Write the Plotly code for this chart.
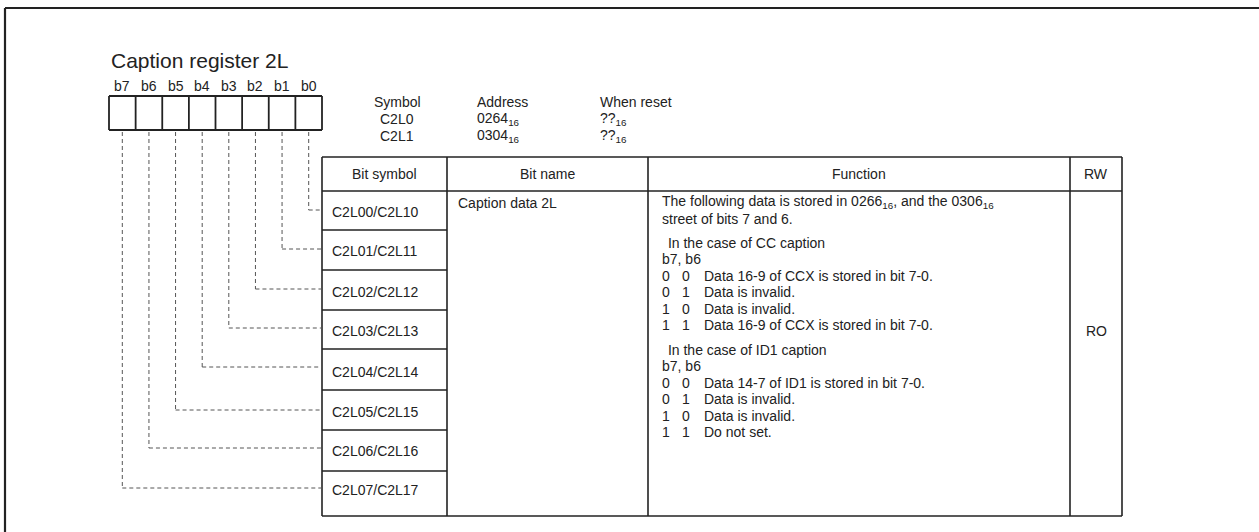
import plotly.graph_objects as go

# ---------------- data ----------------
title_text = "Caption register 2L"
bit_labels = ["b7", "b6", "b5", "b4", "b3", "b2", "b1", "b0"]
reg_header = ["Symbol", "Address", "When reset"]
reg_symbols = ["C2L0", "C2L1"]
reg_addresses = ["0264<sub>16</sub>", "0304<sub>16</sub>"]
reg_reset = ["??<sub>16</sub>", "??<sub>16</sub>"]
table_header = ["Bit symbol", "Bit name", "Function", "RW"]
bit_symbols = ["C2L00/C2L10", "C2L01/C2L11", "C2L02/C2L12", "C2L03/C2L13",
               "C2L04/C2L14", "C2L05/C2L15", "C2L06/C2L16", "C2L07/C2L17"]
bit_name = "Caption data 2L"
func_intro = ["The following data is stored in 0266<sub>16</sub>, and the 0306<sub>16</sub>",
              "street of bits 7 and 6."]
cc_title = " In the case of CC caption"
cc_rows = [("0", "0", "Data 16-9 of CCX is stored in bit 7-0."),
           ("0", "1", "Data is invalid."),
           ("1", "0", "Data is invalid."),
           ("1", "1", "Data 16-9 of CCX is stored in bit 7-0.")]
id_title = " In the case of ID1 caption"
id_rows = [("0", "0", "Data 14-7 of ID1 is stored in bit 7-0."),
           ("0", "1", "Data is invalid."),
           ("1", "0", "Data is invalid."),
           ("1", "1", "Do not set.")]
bits_header = "b7, b6"
rw_value = "RO"

# ---------------- layout geometry ----------------
W, H = 1259, 532
FONT = "Liberation Sans, Arial, Helvetica, sans-serif"
TXT = "#222222"
LINE = "#222222"
FS = 14

fig = go.Figure()
shapes = []
ann = []

def line(x0, y0, x1, y1, w=1.6, color=LINE, dash=None):
    d = dict(type="line", x0=x0, y0=y0, x1=x1, y1=y1, xref="x", yref="y",
             line=dict(color=color, width=w))
    if dash:
        d["line"]["dash"] = dash
    shapes.append(d)

def text(x, y, s, size=FS, anchor="left"):
    ann.append(dict(x=x, y=y, xref="x", yref="y", text=s, showarrow=False,
                    xanchor=anchor, yanchor="middle",
                    font=dict(family=FONT, size=size, color=TXT)))

# outer frame (top and left edges)
line(5, 8, W + 5, 8, w=2.2)
line(5, 8, 5, H + 5, w=2.2)

# title
text(109, 60, title_text, size=21)

# bit boxes
bx0, bx1, by0, by1 = 109, 322, 96, 130
cw = (bx1 - bx0) / 8
for i, lab in enumerate(bit_labels):
    cx = bx0 + cw * (i + 0.5)
    text(cx, 86, lab, size=FS, anchor="center")
for i in range(9):
    x = bx0 + cw * i
    line(x, by0, x, by1, w=1.8)
line(bx0, by0, bx1, by0, w=1.8)
line(bx0, by1, bx1, by1, w=1.8)

# register info
reg_y = [102, 119, 136]
text(397, reg_y[0], reg_header[0], anchor="center")
text(475, reg_y[0], reg_header[1])
text(598, reg_y[0], reg_header[2])
for k in range(2):
    text(397, reg_y[k + 1], reg_symbols[k], anchor="center")
    text(475, reg_y[k + 1], reg_addresses[k])
    text(598, reg_y[k + 1], reg_reset[k])

# table
cols = [322, 447, 648, 1070, 1122]
rows = [157, 191, 230, 270, 310, 349, 390, 430, 471, 516]
tw = 1.6
line(cols[0], rows[0], cols[-1], rows[0], w=tw)
line(cols[0], rows[1], cols[-1], rows[1], w=tw)
line(cols[0], rows[-1], cols[-1], rows[-1], w=tw)
for c in cols:
    line(c, rows[0], c, rows[-1], w=tw)
for r in rows[2:-1]:
    line(cols[0], r, cols[1], r, w=tw)

hdr_y = 174
for j, h in enumerate(table_header):
    text((cols[j] + cols[j + 1]) / 2, hdr_y, h, anchor="center")

sym_text_y = [212, 251, 292, 331, 372, 412, 451, 490]
dash_y = [210, 249, 289, 328, 367, 410, 448, 488]
for i, s in enumerate(bit_symbols):
    text(330, sym_text_y[i], s)
    bit_index = 7 - i
    cx = bx0 + cw * (bit_index + 0.5)
    line(cx, by1 + 2, cx, dash_y[i], w=1, color="#555555", dash="4px,3px")
    line(cx, dash_y[i], cols[0], dash_y[i], w=1, color="#555555", dash="4px,3px")

text(456, 203, bit_name)

# function column
fx = 660
fy = [202, 219, 243, 259, 276, 292, 309, 325, 350, 366, 383, 399, 416, 432]
text(fx, fy[0], func_intro[0])
text(fx, fy[1], func_intro[1])
text(fx + 2, fy[2], cc_title)
text(fx, fy[3], bits_header)
for k, (a, b, s) in enumerate(cc_rows):
    y = fy[4 + k]
    text(fx, y, a)
    text(fx + 20, y, b)
    text(fx + 42, y, s)
text(fx + 2, fy[8], id_title)
text(fx, fy[9], bits_header)
for k, (a, b, s) in enumerate(id_rows):
    y = fy[10 + k]
    text(fx, y, a)
    text(fx + 20, y, b)
    text(fx + 42, y, s)

text((cols[3] + cols[4]) / 2, 331, rw_value, anchor="center")

fig.update_layout(
    width=W, height=H,
    margin=dict(l=0, r=0, t=0, b=0),
    paper_bgcolor="white", plot_bgcolor="white",
    xaxis=dict(range=[0, W], visible=False, fixedrange=True),
    yaxis=dict(range=[H, 0], visible=False, fixedrange=True),
    shapes=shapes, annotations=ann, showlegend=False,
)
fig.write_html("out.html", config={"displayModeBar": False},
               post_script="document.body.style.margin='0';document.body.style.overflow='hidden';")
